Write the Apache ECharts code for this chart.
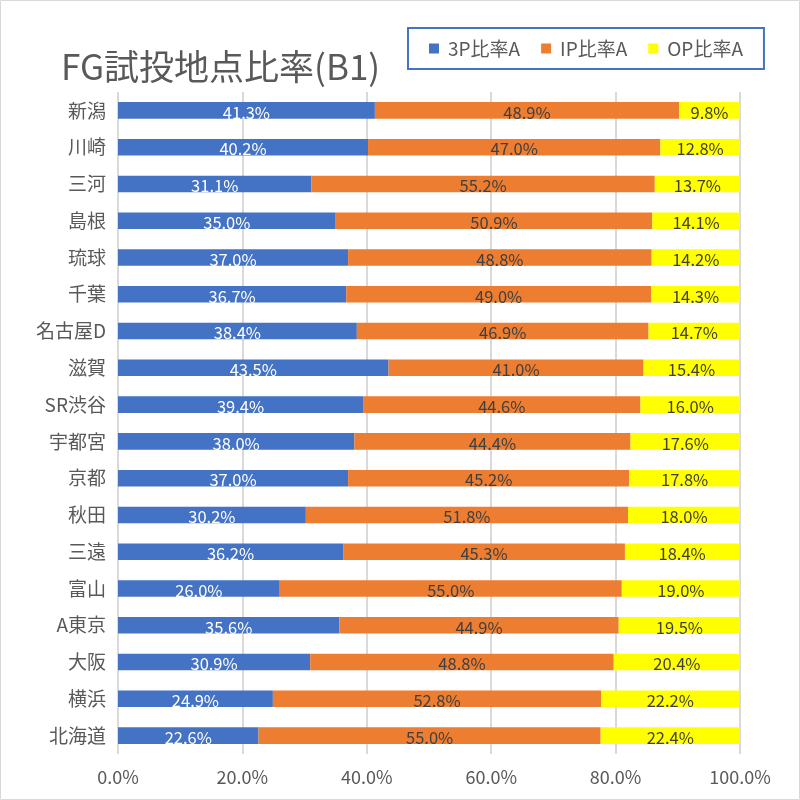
<!DOCTYPE html>
<html><head><meta charset="utf-8">
<script src="https://cdn.jsdelivr.net/npm/echarts@6/dist/echarts.min.js"></script>
<style>html,body{margin:0;padding:0;background:#fff}#c{width:800px;height:800px}</style>
</head><body><div id="c"></div>
<script>
const categories = ['新潟','川崎','三河','島根','琉球','千葉','名古屋D','滋賀','SR渋谷','宇都宮','京都','秋田','三遠','富山','A東京','大阪','横浜','北海道'];
const threeP = [41.3,40.2,31.1,35.0,37.0,36.7,38.4,43.5,39.4,38.0,37.0,30.2,36.2,26.0,35.6,30.9,24.9,22.6];
const inP = [48.9,47.0,55.2,50.9,48.8,49.0,46.9,41.0,44.6,44.4,45.2,51.8,45.3,55.0,44.9,48.8,52.8,55.0];
const outP = [9.8,12.8,13.7,14.1,14.2,14.3,14.7,15.4,16.0,17.6,17.8,18.0,18.4,19.0,19.5,20.4,22.2,22.4];
const xTicks = [0,20,40,60,80,100];
const seriesNames = ['3P比率A','IP比率A','OP比率A'];

const font = '"Noto Sans CJK JP", "Noto Sans", sans-serif';
const chart = echarts.init(document.getElementById('c'), null, {renderer:'canvas'});
function mk(name, data, color, labelColor){
  return {
    name, type:'bar', stack:'s', data, barWidth:'45%',
    itemStyle:{color},
    label:{show:true, position:'inside', formatter:p=>p.value.toFixed(1)+'%', color:labelColor, fontSize:16.5, fontFamily:font, offset:[0,2]}
  };
}
chart.setOption({
  animation:false,
  graphic:[{type:'rect', shape:{x:0.5,y:0.5,width:799,height:799}, style:{fill:'none', stroke:'#d9d9d9', lineWidth:1}}],
  title:{text:'FG試投地点比率(B1)', left:56, top:44, textStyle:{fontSize:35, fontWeight:'normal', color:'#595959', fontFamily:font}},
  legend:{data:seriesNames, left:408, top:28, padding:[11,21], itemGap:21, itemWidth:10, itemHeight:10, icon:'rect',
    borderColor:'#4472c4', borderWidth:2, textStyle:{fontSize:19, color:'#595959', fontFamily:font, padding:[0,0,0,4]}},
  grid:{left:118, right:60, top:92, bottom:46, containLabel:false},
  xAxis:{type:'value', min:0, max:100, interval:20,
    axisLabel:{formatter:v=>v.toFixed(1)+'%', fontSize:18, color:'#595959', fontFamily:font, margin:14},
    splitLine:{lineStyle:{color:'#d9d9d9', width:2}}, axisLine:{show:false}, axisTick:{show:false}},
  yAxis:{type:'category', data:categories, inverse:true,
    axisLabel:{fontSize:19, color:'#595959', fontFamily:font, margin:12},
    axisLine:{show:false}, axisTick:{show:false}},
  series:[mk(seriesNames[0], threeP, '#4472c4', '#ffffff'), mk(seriesNames[1], inP, '#ed7d31', '#404040'), mk(seriesNames[2], outP, '#ffff00', '#404040')]
});
</script></body></html>
